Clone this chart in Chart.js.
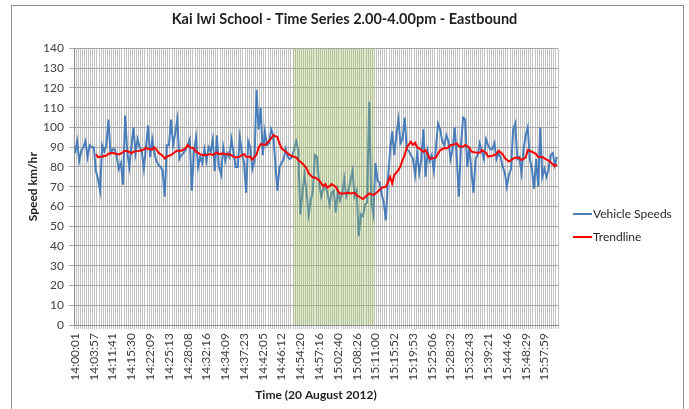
<!DOCTYPE html>
<html>
<head>
<meta charset="utf-8">
<script src="https://cdn.jsdelivr.net/npm/chart.js@4.4.1/dist/chart.umd.min.js"></script>
<style>
  html, body { margin: 0; padding: 0; background: #fff; overflow: hidden; }
  #wrap { position: relative; width: 689px; height: 409px; }
  #frame { position: absolute; left: 11px; top: 5px; width: 671px; height: 420px; border: 1px solid #8c8c8c; pointer-events: none; }
</style>
</head>
<body>
<div id="wrap">
  <canvas id="speedChart" width="689" height="409"></canvas>
  <div id="frame"></div>
</div>
<script>
"use strict";

// axis labels shown under every 9th reading
var tickLabels = ['14:00:01','14:03:57','14:11:41','14:15:30','14:22:09','14:25:13','14:28:08',
  '14:32:16','14:34:09','14:37:23','14:42:05','14:46:12','14:54:20','14:57:16','15:02:40',
  '15:08:26','15:11:00','15:15:52','15:19:53','15:25:06','15:28:32','15:32:43','15:39:21',
  '15:44:46','15:48:29','15:57:59'];
var labelEvery = 9;

// individual vehicle speeds (km/hr), one per passing vehicle
var vehicleSpeeds = [
  87,93,83,88,90,93,85,91,90,90, 78,74,68,91,88,91,104,87,89,89,
  85,79,82,71,106,88,80,90,100,87, 94,90,88,79,90,101,85,94,87,83,
  81,80,78,65,91,91,104,91,97,104, 84,86,87,89,91,94,68,88,95,80,
  85,82,89,83,90,88,94,78,96,80, 76,90,83,87,85,94,87,80,80,95,
  87,82,67,93,90,79,83,119,99,110, 86,98,91,92,99,96,82,68,80,82,
  84,89,85,84,85,89,93,88,56,67, 76,67,56,63,68,86,85,72,65,69,
  70,67,61,67,68,57,68,63,66,74, 65,68,73,78,65,68,45,56,55,61,
  62,113,62,56,82,73,72,66,62,53, 74,88,98,86,96,104,92,94,105,89,
  88,86,84,76,87,77,84,99,75,88, 83,86,78,90,102,99,93,91,96,93,
  84,89,100,84,65,91,105,104,80,90, 78,67,84,86,92,88,84,94,91,89,
  89,92,84,87,85,80,77,70,76,79, 99,102,84,85,77,89,96,100,84,79,
  69,84,70,100,75,79,75,79,86,87, 81,85
];

// moving-average trendline (reading index, km/hr)
var trendIdx = [10,11,13,15,16,18,19,21,22,24,26,27,28,30,31,33,34,35,37,38,39,40,42,43,44,45,46,48,49,51,
  53,54,55,57,58,60,61,63,65,66,68,69,71,73,74,76,77,79,81,82,84,85,87,88,89,91,92,94,95,97,
  98,99,101,103,104,106,107,109,111,112,114,115,117,119,120,121,122,123,125,126,127,129,131,132,134,135,137,138,140,141,
  143,144,145,147,149,150,151,152,153,155,156,157,158,159,161,162,163,164,165,167,168,169,170,171,173,174,175,177,178,179,
  180,181,183,184,186,187,189,190,192,194,195,197,198,200,202,203,205,206,208,209,211,213,214,216,217,219,221,222,224,225,
  227,229,230,231];
var trendVals = [86.5,85,85.3,85.8,86.7,87.2,86.8,86.3,86.8,88.2,87.7,86.8,87.7,88,88.2,88.8,89.7,89.2,88.8,89.9,88.8,87.2,85.7,84.3,85.2,85.7,86,87.7,88.2,88.2,
  89.4,91.1,89.9,89.4,87.7,86.5,86,86,86.5,86,87.3,86.5,86.8,86.3,86.5,85.2,84.8,85.2,86.5,85.2,85.2,83.7,86.3,89.9,91.6,91.1,92,94.4,96,95.2,
  91.9,89.4,87.7,86,85.5,84.8,83.5,81.8,79.3,76.7,74.7,74.7,73.3,70.3,71.3,69.6,70.3,71.3,69.9,67.9,66.6,66.6,66.9,66.6,66.9,65.7,64.4,63.8,65.7,66.6,
  65.7,66.6,67.4,69.4,70,72.5,75,71.6,75.9,78.4,80.4,83.5,86,89.9,92.7,91.1,92.2,89.9,89.4,87.7,88.5,86.5,84.3,84.3,84.8,86.8,88.5,89.4,89.4,89.9,
  91.1,91.1,91.9,90.5,90.2,91.1,89.9,87.7,87.3,87.2,88.5,87.2,85.2,85.7,86.5,88.2,86.5,84.5,82.8,83.5,84.8,84.5,83.5,84.8,88.5,87.7,86.5,85,85,84.3,
  83.2,81.4,80.4,81.4];

// school zone period shaded green (reading index range)
var zoneFirst = 105;
var zoneLast = 143;
var zoneTop = 140;

var labels = vehicleSpeeds.map(function(v, i) {
  return (i % labelEvery === 0 && tickLabels[i / labelEvery]) ? tickLabels[i / labelEvery] : '';
});
var trendData = vehicleSpeeds.map(function() { return null; });
trendIdx.forEach(function(idx, k) { trendData[idx] = trendVals[k]; });
var zoneData = vehicleSpeeds.map(function(v, i) { return (i >= zoneFirst && i <= zoneLast) ? zoneTop : null; });

var FONT = 'Lato';

// legend drawn beside the plot, like the excel one
var sideLegend = {
  id: 'sideLegend',
  afterDraw: function(chart, args, opts) {
    var ctx = chart.ctx;
    ctx.save();
    ctx.font = '12px ' + FONT;
    ctx.textBaseline = 'middle';
    ctx.textAlign = 'left';
    chart.data.datasets.filter(function(d) { return d.inLegend; }).forEach(function(d, i) {
      var y = opts.top + i * opts.spacing;
      ctx.strokeStyle = d.borderColor;
      ctx.lineWidth = 2;
      ctx.beginPath();
      ctx.moveTo(opts.left, y);
      ctx.lineTo(opts.left + 19, y);
      ctx.stroke();
      ctx.fillStyle = '#262626';
      ctx.fillText(d.label, opts.left + 20, y);
    });
    ctx.restore();
  }
};

var ctx = document.getElementById('speedChart').getContext('2d');
new Chart(ctx, {
  data: {
    labels: labels,
    datasets: [{
      type: 'line',
      label: 'Vehicle Speeds',
      inLegend: true,
      data: vehicleSpeeds,
      borderColor: '#4a7ebb',
      borderWidth: 2,
      pointRadius: 0,
      tension: 0,
      order: 3
    }, {
      type: 'bar',
      label: 'School zone',
      data: zoneData,
      backgroundColor: 'rgba(155,187,89,0.27)',
      borderWidth: 0,
      barPercentage: 1,
      categoryPercentage: 1,
      order: 2
    }, {
      type: 'line',
      label: 'Trendline',
      inLegend: true,
      data: trendData,
      spanGaps: true,
      borderColor: '#ff0000',
      borderWidth: 2,
      pointRadius: 0,
      tension: 0,
      order: 1
    }]
  },
  options: {
    responsive: false,
    animation: false,
    devicePixelRatio: 1,
    layout: { padding: { left: 0, right: 0, top: 0, bottom: 0 } },
    plugins: {
      title: {
        display: true,
        text: 'Kai Iwi School - Time Series 2.00-4.00pm - Eastbound',
        color: '#1f1f1f',
        font: { family: FONT, size: 14.5, weight: 'bold' },
        padding: { top: 11, bottom: 20 }
      },
      legend: { display: false },
      tooltip: { enabled: false },
      sideLegend: { left: 573, top: 214, spacing: 23 }
    },
    scales: {
      x: {
        offset: true,
        grid: { offset: true, color: '#c2c2c2', lineWidth: 1, tickLength: 4 },
        border: { color: '#8c8c8c' },
        ticks: {
          autoSkip: false, maxRotation: 90, minRotation: 90, padding: 4,
          color: '#404040', font: { family: FONT, size: 12 }
        },
        title: {
          display: true, text: 'Time (20 August 2012)', color: '#1f1f1f',
          font: { family: FONT, size: 12, weight: 'bold' },
          padding: { top: 0, bottom: 7 }
        },
        afterFit: function(scale) { scale.height = 84; }
      },
      y: {
        min: 0,
        max: 140,
        grid: { color: '#a6a6a6', lineWidth: 1, tickLength: 5 },
        border: { color: '#8c8c8c' },
        ticks: { stepSize: 10, padding: 5, color: '#404040', font: { family: FONT, size: 12 } },
        title: {
          display: true, text: 'Speed km/hr', color: '#1f1f1f',
          font: { family: FONT, size: 12, weight: 'bold' },
          padding: { top: 26, bottom: 0 }
        },
        afterFit: function(scale) { scale.width = 74; }
      },
      // empty right-hand strip that leaves room for the legend
      legendSpace: {
        position: 'right',
        grid: { display: false },
        border: { display: false },
        ticks: { display: false },
        afterFit: function(scale) { scale.width = 131; }
      }
    }
  },
  plugins: [sideLegend]
});
</script>
</body>
</html>
